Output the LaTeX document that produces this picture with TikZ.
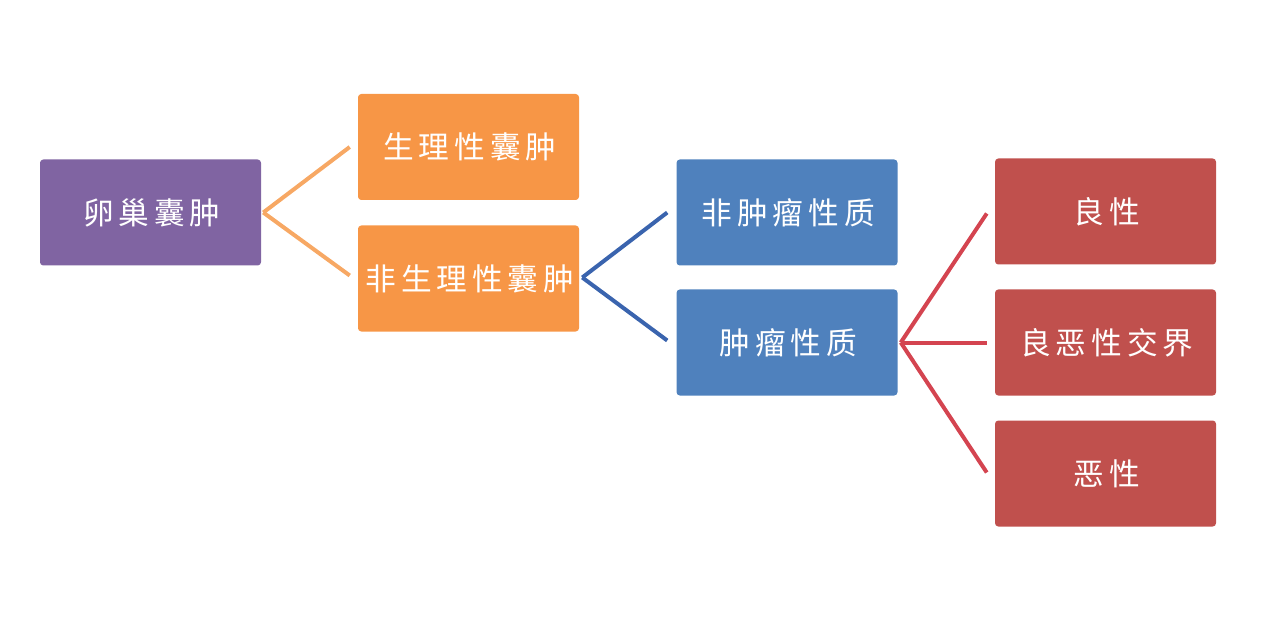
\documentclass[tikz,border=0pt]{standalone}
\usepackage{fontspec}
\newfontfamily\cjk[LetterSpace=16]{Noto Sans CJK SC}
\usetikzlibrary{calc}
\definecolor{boxpurple}{RGB}{128,100,162}
\definecolor{boxorange}{RGB}{247,150,70}
\definecolor{boxblue}{RGB}{79,129,189}
\definecolor{boxred}{RGB}{192,80,77}
\definecolor{lineorange}{RGB}{247,168,100}
\definecolor{lineblue}{RGB}{58,100,174}
\definecolor{linered}{RGB}{212,68,80}
\begin{document}
\begin{tikzpicture}[x=0.75pt,y=0.75pt,yscale=-1,xscale=1,
  cbox/.style={rounded corners=2.5pt,inner sep=0pt,minimum width=165.75pt,minimum height=79.5pt,text=white,font=\cjk\fontsize{23pt}{26pt}\selectfont},
  link/.style={line width=3pt}]
\useasboundingbox (0,0) rectangle (1280,623);

%Root
\node [cbox,fill=boxpurple] (cyst) at (150.5,212.5) {\hspace{2pt}卵巢囊肿};
%Level 2
\node [cbox,fill=boxorange] (phys) at (468.5,147) {\hspace{2pt}生理性囊肿};
\node [cbox,fill=boxorange] (nonphys) at (468.5,278.5) {\hspace{2pt}非生理性囊肿};
%Level 3
\node [cbox,fill=boxblue] (nontumor) at (787,212.5) {\hspace{2pt}非肿瘤性质};
\node [cbox,fill=boxblue] (tumor) at (787,342.5) {\hspace{2pt}肿瘤性质};
%Level 4
\node [cbox,fill=boxred] (benign) at (1105.5,211.5) {\hspace{2pt}良性};
\node [cbox,fill=boxred] (border) at (1105.5,342.5) {\hspace{2pt}良恶性交界};
\node [cbox,fill=boxred] (malign) at (1105.5,473.5) {\hspace{2pt}恶性};

%Connectors
\draw [link,color=lineorange] ($(cyst.east)+(2,0)$) -- ($(phys.west)+(-8,0)$);
\draw [link,color=lineorange] ($(cyst.east)+(2,0)$) -- ($(nonphys.west)+(-8,-3)$);
\draw [link,color=lineblue] ($(nonphys.east)+(3,-1)$) -- ($(nontumor.west)+(-9,0)$);
\draw [link,color=lineblue] ($(nonphys.east)+(3,-1)$) -- ($(tumor.west)+(-9,-2)$);
\draw [link,color=linered] ($(tumor.east)+(3,0)$) -- ($(benign.west)+(-8,2)$);
\draw [link,color=linered] ($(tumor.east)+(3,0)$) -- ($(border.west)+(-8,0)$);
\draw [link,color=linered] ($(tumor.east)+(3,0)$) -- ($(malign.west)+(-8,-1)$);

\end{tikzpicture}
\end{document}
